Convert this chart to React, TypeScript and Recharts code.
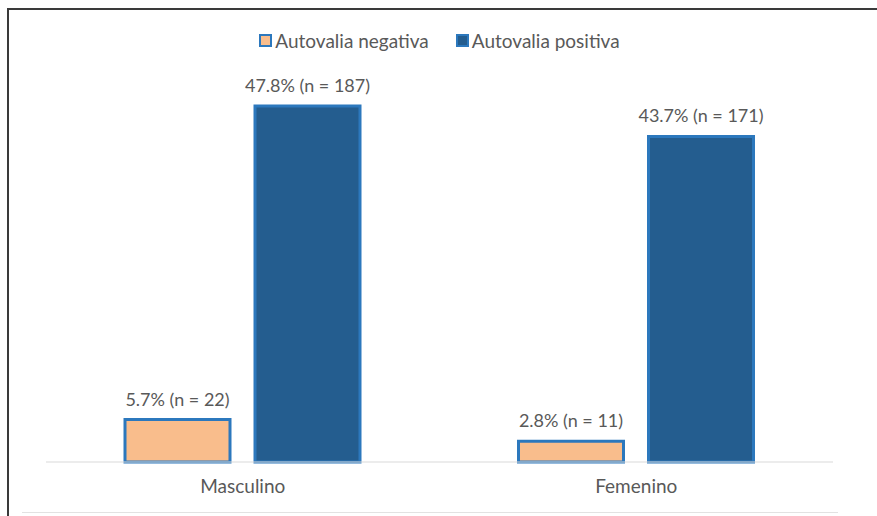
import React from 'react';
import { BarChart, Bar, XAxis, YAxis, Legend, LabelList } from 'recharts';

const categories = ['Masculino', 'Femenino'];
const negativeValues = [5.7, 2.8];
const negativeCounts = [22, 11];
const positiveValues = [47.8, 43.7];
const positiveCounts = [187, 171];
const seriesNames = ['Autovalia negativa', 'Autovalia positiva'];

const FONT = 'Lato, "Open Sans", sans-serif';
const TEXT = '#595959';
const EDGE = '#2c78bd';
const ORANGE = '#f9bd8c';
const NAVY = '#245d8f';

const chartData = categories.map((name, i) => ({
  name,
  negativa: negativeValues[i],
  negativaLabel: `${negativeValues[i]}% (n = ${negativeCounts[i]})`,
  positiva: positiveValues[i],
  positivaLabel: `${positiveValues[i]}% (n = ${positiveCounts[i]})`
}));

function LegendBox({ payload }: any) {
  return (
    <div
      style={{
        display: 'flex',
        justifyContent: 'center',
        height: 20,
        alignItems: 'center',
        fontFamily: FONT,
        fontSize: 19,
        color: TEXT
      }}
    >
      {(payload || []).map((p: any, i: number) => (
        <div key={i} style={{ display: 'flex', alignItems: 'center', marginRight: i === 0 ? 27 : 0 }}>
          <span
            style={{
              display: 'inline-block',
              width: 9,
              height: 9,
              border: `2.5px solid ${EDGE}`,
              background: p.color,
              marginRight: 3
            }}
          />
          <span>{p.value}</span>
        </div>
      ))}
    </div>
  );
}

// label drawn on one line above the bar, no wrapping
function TopLabel(props: any) {
  const { x, y, width, value } = props;
  return (
    <text
      x={x + width / 2}
      y={y - 14}
      textAnchor="middle"
      fill={TEXT}
      fontSize={18}
      fontFamily={FONT}
    >
      {value}
    </text>
  );
}

export default function App() {
  return (
    <div
      style={{
        position: 'fixed',
        left: 0,
        top: 0,
        width: 877,
        height: 516,
        overflow: 'hidden',
        background: '#fff'
      }}
    >
      <div
        style={{
          position: 'absolute',
          left: 7,
          top: 8,
          width: 900,
          height: 600,
          borderTop: '2px solid #3a3a3a',
          borderLeft: '2px solid #3a3a3a'
        }}
      />
      <div
        style={{
          position: 'absolute',
          left: 22,
          top: 512,
          width: 816,
          height: 1,
          background: '#e2e2e2'
        }}
      />
      <div style={{ position: 'absolute', left: 0, top: 0 }}>
        <BarChart
          width={877}
          height={516}
          data={chartData}
          margin={{ top: 69.5, right: 44, bottom: 24, left: 46 }}
          barGap={25}
        >
          <XAxis
            dataKey="name"
            axisLine={{ stroke: '#d9d9d9', strokeWidth: 1 }}
            tickLine={false}
            tickMargin={12}
            tick={{ fill: TEXT, fontSize: 19, fontFamily: FONT }}
          />
          <YAxis hide domain={[0, 50]} />
          <Legend
            verticalAlign="top"
            wrapperStyle={{ top: 30 }}
            content={<LegendBox />}
          />
          <Bar
            dataKey="negativa"
            name={seriesNames[0]}
            fill={ORANGE}
            stroke={EDGE}
            strokeWidth={3}
            barSize={105}
            isAnimationActive={false}
          >
            <LabelList dataKey="negativaLabel" content={<TopLabel />} />
          </Bar>
          <Bar
            dataKey="positiva"
            name={seriesNames[1]}
            fill={NAVY}
            stroke={EDGE}
            strokeWidth={3}
            barSize={105}
            isAnimationActive={false}
          >
            <LabelList dataKey="positivaLabel" content={<TopLabel />} />
          </Bar>
        </BarChart>
      </div>
    </div>
  );
}
